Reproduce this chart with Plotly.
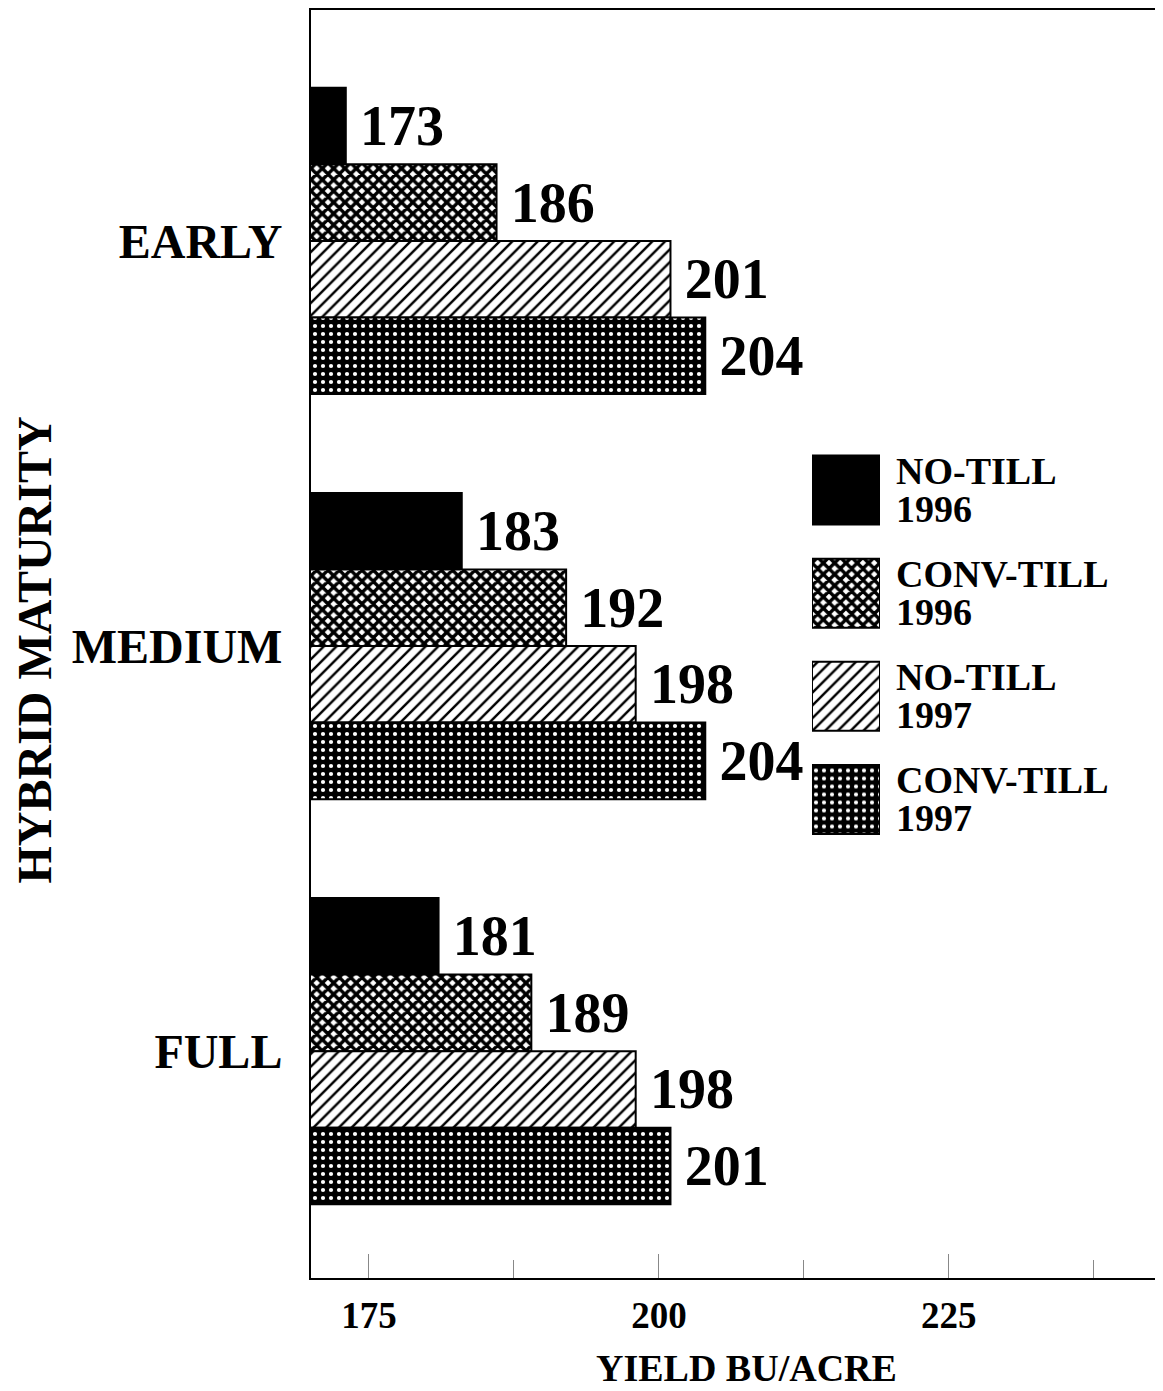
import plotly.graph_objects as go

# ---------------- data ----------------
categories = ["EARLY", "MEDIUM", "FULL"]
series_names = ["NO-TILL 1996", "CONV-TILL 1996", "NO-TILL 1997", "CONV-TILL 1997"]
legend_line1 = ["NO-TILL", "CONV-TILL", "NO-TILL", "CONV-TILL"]
legend_line2 = ["1996", "1996", "1997", "1997"]
no_till_1996 = [173, 183, 181]
conv_till_1996 = [186, 192, 189]
no_till_1997 = [201, 198, 198]
conv_till_1997 = [204, 204, 201]
x_tick_vals = [175, 200, 225]
x_tick_text = ["175", "200", "225"]
x_title = "YIELD BU/ACRE"
y_title = "HYBRID MATURITY"

series_values = [no_till_1996, conv_till_1996, no_till_1997, conv_till_1997]

# ---------------- styles ----------------
FONT = "Liberation Serif"
styles = [
    dict(shape="", fg="black", bg="black", size=8, solidity=0.5),
    dict(shape="x", fg="black", bg="white", size=8, solidity=0.68),
    dict(shape="/", fg="black", bg="white", size=9, solidity=0.27),
    dict(shape=".", fg="white", bg="black", size=8, solidity=0.22),
]

def marker_for(st):
    return dict(
        color=st["bg"],
        line=dict(color="black", width=2),
        pattern=dict(shape=st["shape"], fgcolor=st["fg"], bgcolor=st["bg"],
                     size=st["size"], solidity=st["solidity"], fillmode="replace"),
    )

fig = go.Figure()

for name, vals, st in zip(series_names, series_values, styles):
    fig.add_trace(go.Bar(
        name=name,
        y=categories,
        x=vals,
        orientation="h",
        marker=marker_for(st),
        texttemplate="\u2009%{x}",
        textposition="outside",
        textfont=dict(family=FONT, size=56, color="black", weight="bold"),
        constraintext="none",
        cliponaxis=False,
        showlegend=False,
        hoverinfo="x+y+name",
    ))

# legend swatches drawn as bars on an auxiliary axis
for i, (name, st) in enumerate(zip(series_names, styles)):
    fig.add_trace(go.Bar(
        name=name,
        y=[i],
        x=[1],
        orientation="h",
        width=0.67,
        offset=-0.335,
        xaxis="x2",
        yaxis="y2",
        marker=marker_for(st),
        showlegend=False,
        hoverinfo="skip",
    ))

# page geometry (the page body adds an 8px offset)
OFF = 8
W, H = 1163 - OFF, 1391 - OFF
plot_l, plot_r, plot_t, plot_b = 311, 1161, 10, 1278  # page coords
ml, mr, mt = plot_l - OFF, (OFF + W) - plot_r, plot_t - OFF
mb = (OFF + H) - plot_b
pw, ph = plot_r - plot_l, plot_b - plot_t

def px_x(x):
    return (x - plot_l) / pw

def px_y(y):
    return (plot_b - y) / ph

annotations = []
for i in range(len(series_names)):
    for line, shift in ((legend_line1[i], 19), (legend_line2[i], -19)):
        annotations.append(dict(
            x=1, y=i, xref="x2", yref="y2", xanchor="left", yanchor="middle",
            xshift=14, yshift=shift, text=line, showarrow=False, align="left",
            font=dict(family=FONT, size=38, color="black", weight="bold"),
        ))

annotations.append(dict(
    x=px_x(746), y=px_y(1368), xref="paper", yref="paper",
    xanchor="center", yanchor="middle", text=x_title, showarrow=False,
    font=dict(family=FONT, size=38, color="black", weight="bold"),
))
annotations.append(dict(
    x=px_x(33.5), y=px_y(650), xref="paper", yref="paper", textangle=-90,
    xanchor="center", yanchor="middle", text=y_title, showarrow=False,
    font=dict(family=FONT, size=48, color="black", weight="bold"),
))

fig.update_layout(
    width=W, height=H,
    margin=dict(l=ml, r=mr, t=mt, b=mb, pad=0, autoexpand=False),
    paper_bgcolor="white", plot_bgcolor="white",
    barmode="group", bargap=0.244, bargroupgap=0,
    annotations=annotations,
    xaxis=dict(
        range=[170, 243.3],
        tickvals=x_tick_vals, ticktext=x_tick_text,
        ticks="inside", ticklen=24, tickwidth=1, tickcolor="#888",
        minor=dict(ticks="inside", ticklen=18, tickwidth=1, tickcolor="#888",
                   tick0=187.5, dtick=25),
        showgrid=False, zeroline=False,
        showline=True, linecolor="black", linewidth=2, mirror=True,
        tickfont=dict(family=FONT, size=37, color="black", weight="bold"),
        ticklabelstandoff=4,
        automargin=False,
    ),
    yaxis=dict(
        range=[2.56, -0.57],
        showgrid=False, zeroline=False, ticks="",
        showline=True, linecolor="black", linewidth=2,
        tickfont=dict(family=FONT, size=48, color="black", weight="bold"),
        ticklabelstandoff=17,
        automargin=False,
    ),
    xaxis2=dict(
        domain=[px_x(812), px_x(880)], range=[0, 1], anchor="y2",
        visible=False, fixedrange=True,
    ),
    yaxis2=dict(
        domain=[px_y(851), px_y(438.5)], range=[3.5, -0.5],
        anchor="x2", visible=False, fixedrange=True,
    ),
)

fig.write_html("out.html")
